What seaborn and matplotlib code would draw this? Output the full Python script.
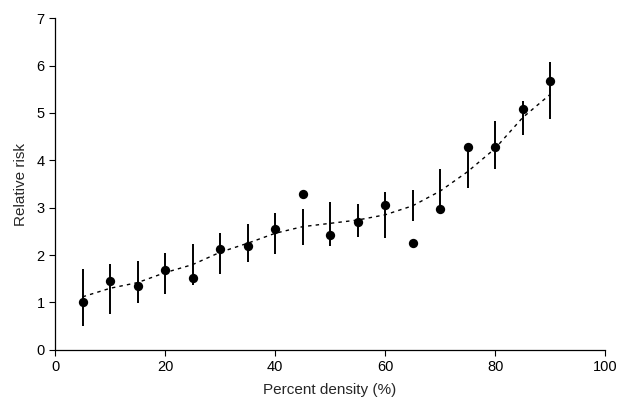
import numpy as np
import pandas as pd
import matplotlib
matplotlib.use("Agg")
import matplotlib.pyplot as plt
import seaborn as sns

# percent density categories
density = [5, 10, 15, 20, 25, 30, 35, 40, 45, 50, 55, 60, 65, 70, 75, 80, 85, 90]
# observed relative risk (dots)
rel_risk = [1.01, 1.45, 1.35, 1.68, 1.52, 2.13, 2.20, 2.55, 3.28, 2.42,
            2.70, 3.06, 2.25, 2.97, 4.28, 4.28, 5.08, 5.67]
# confidence bars (drawn as vertical lines)
ci_low = [0.51, 0.76, 0.99, 1.18, 1.37, 1.60, 1.86, 2.02, 2.21, 2.19,
          2.38, 2.36, 2.72, 2.97, 3.41, 3.82, 4.53, 4.87]
ci_high = [1.71, 1.81, 1.88, 2.05, 2.24, 2.47, 2.66, 2.89, 2.97, 3.12,
           3.08, 3.33, 3.37, 3.82, 4.28, 4.83, 5.25, 6.07]
# fitted curve (dashed)
fit = [1.12, 1.30, 1.42, 1.63, 1.80, 2.06, 2.25, 2.46, 2.60, 2.67,
       2.74, 2.85, 3.04, 3.35, 3.76, 4.25, 4.90, 5.39]

df = pd.DataFrame({"density": density, "rr": rel_risk, "lo": ci_low,
                   "hi": ci_high, "fit": fit})

sns.set_style("ticks")
plt.rcParams['font.family'] = ['Liberation Sans', 'DejaVu Sans']

fig = plt.figure(figsize=(6.27, 4.04), dpi=100)
ax = fig.add_axes([0.088, 0.134, 0.877, 0.821])

sns.lineplot(data=df, x="density", y="fit", ax=ax, color="black",
             linewidth=1.0, linestyle=(0, (2.5, 3)))
ax.vlines(df["density"], df["lo"], df["hi"], color="black", linewidth=1.4)
sns.scatterplot(data=df, x="density", y="rr", ax=ax, color="black",
                s=45, edgecolor="black", linewidth=0, zorder=3)

ax.set_xlim(0, 100)
ax.set_ylim(0, 7)
ax.set_xticks([0, 20, 40, 60, 80, 100])
ax.set_yticks(range(0, 8))
ax.tick_params(axis="both", direction="out", length=4, width=0.8,
               labelsize=10.5, colors="black")
for s in ["top", "right"]:
    ax.spines[s].set_visible(False)
for s in ["left", "bottom"]:
    ax.spines[s].set_linewidth(0.9)
    ax.spines[s].set_color("black")

ax.set_xlabel("Percent density (%)", fontsize=11, labelpad=6)
ax.set_ylabel("Relative risk", fontsize=11, labelpad=6)

fig.savefig("out.png", dpi=100)
